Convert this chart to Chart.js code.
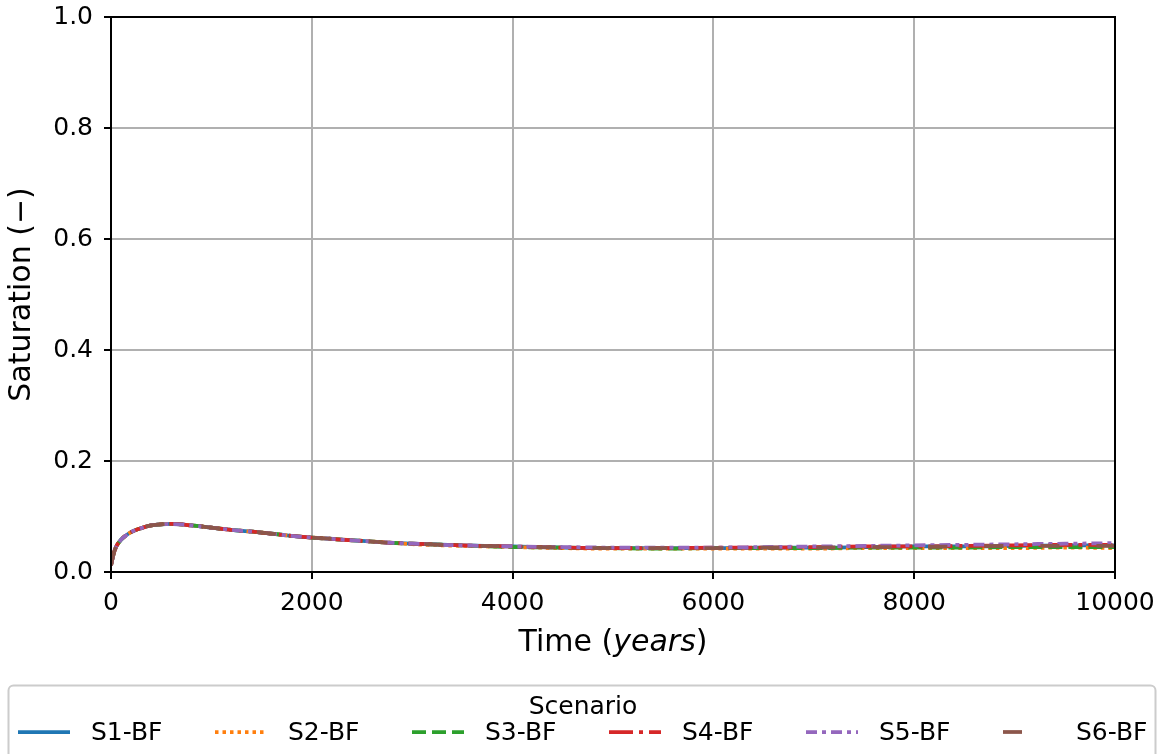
<!DOCTYPE html>
<html>
<head>
<meta charset="utf-8">
<title>Saturation</title>
<script src="https://cdn.jsdelivr.net/npm/chart.js@4/dist/chart.umd.min.js"></script>
<style>
    html, body { margin: 0; padding: 0; background: #fff; }
    #wrap { width: 1160px; height: 754px; }
</style>
</head>
<body>
<div id="wrap"><canvas id="satChart" width="1160" height="754"></canvas></div>
<script>

// time axis (years)
const years = [0, 25, 50, 100, 150, 200, 300, 400, 500, 600, 800, 1000, 1250, 1500, 1750, 2000, 2250, 2500, 2750, 3000,
    3500, 4000, 4500, 5000, 5500, 6000, 6500, 7000, 7500, 8000, 8500, 9000, 9500, 10000];

const scenarios = ["S1-BF", "S2-BF", "S3-BF", "S4-BF", "S5-BF", "S6-BF"];

// saturation per scenario
const s1 = [0.012, 0.032, 0.045, 0.058, 0.066, 0.072, 0.079, 0.084, 0.086, 0.0865, 0.084, 0.080, 0.075, 0.071, 0.066, 0.062, 0.059, 0.056, 0.053, 0.051,
    0.048, 0.046, 0.044, 0.043, 0.043, 0.043, 0.044, 0.044, 0.045, 0.046, 0.046, 0.047, 0.048, 0.048];
const s2 = [0.012, 0.032, 0.045, 0.058, 0.066, 0.072, 0.079, 0.084, 0.086, 0.0865, 0.084, 0.080, 0.075, 0.071, 0.066, 0.062, 0.059, 0.056, 0.053, 0.050,
    0.047, 0.045, 0.043, 0.042, 0.042, 0.042, 0.042, 0.042, 0.043, 0.043, 0.043, 0.043, 0.044, 0.043];
const s3 = [0.012, 0.032, 0.045, 0.058, 0.066, 0.072, 0.079, 0.084, 0.086, 0.0865, 0.084, 0.080, 0.075, 0.071, 0.066, 0.062, 0.059, 0.056, 0.053, 0.051,
    0.048, 0.045, 0.044, 0.043, 0.042, 0.043, 0.043, 0.043, 0.044, 0.044, 0.044, 0.045, 0.045, 0.045];
const s4 = [0.012, 0.032, 0.045, 0.058, 0.066, 0.072, 0.079, 0.084, 0.086, 0.0865, 0.084, 0.080, 0.075, 0.071, 0.066, 0.062, 0.059, 0.056, 0.053, 0.051,
    0.048, 0.046, 0.044, 0.043, 0.043, 0.044, 0.044, 0.045, 0.046, 0.046, 0.047, 0.048, 0.049, 0.049];
const s5 = [0.012, 0.032, 0.045, 0.058, 0.066, 0.072, 0.079, 0.084, 0.086, 0.0865, 0.084, 0.080, 0.075, 0.071, 0.066, 0.062, 0.059, 0.056, 0.053, 0.051,
    0.048, 0.046, 0.045, 0.044, 0.044, 0.044, 0.045, 0.046, 0.047, 0.048, 0.049, 0.050, 0.051, 0.052];
const s6 = [0.012, 0.032, 0.045, 0.058, 0.066, 0.072, 0.079, 0.084, 0.086, 0.0865, 0.084, 0.080, 0.075, 0.071, 0.066, 0.062, 0.059, 0.056, 0.053, 0.051,
    0.048, 0.046, 0.044, 0.043, 0.043, 0.043, 0.044, 0.044, 0.045, 0.045, 0.046, 0.047, 0.047, 0.047];

const xTicks = [0, 2000, 4000, 6000, 8000, 10000];
const yTicks = [0.0, 0.2, 0.4, 0.6, 0.8, 1.0];

const series = [s1, s2, s3, s4, s5, s6];
const colors = ['#1f77b4', '#ff7f0e', '#2ca02c', '#d62728', '#9467bd', '#8c564b'];
const dashes = [
    [],                                   // solid
    [3.5, 4],                             // dotted
    [14, 6],                              // dashed
    [24, 6, 4, 6],                        // dash-dot
    [11, 5, 4, 5, 11, 5, 4, 5, 4, 5],     // dash-dot-dot
    [19, 37]                              // loose dashes
];

const FONT = "'DejaVu Sans', sans-serif";

const datasets = scenarios.map(function(name, i) {
    return {
        label: name,
        data: years.map(function(t, k) { return { x: t, y: series[i][k] }; }),
        borderColor: colors[i],
        backgroundColor: colors[i],
        borderWidth: 3.75,
        borderDash: dashes[i],
        pointRadius: 0,
        fill: false,
        cubicInterpolationMode: 'monotone',
        order: scenarios.length - i // later scenarios on top
    };
});

// frame, x title with italic unit, and the boxed legend below the axes
const decorations = {
    id: 'decorations',
    afterDraw: function(chart) {
        const ctx = chart.ctx;
        const a = chart.chartArea;
        ctx.save();

        // spines
        ctx.strokeStyle = '#000';
        ctx.lineWidth = 2;
        ctx.setLineDash([]);
        ctx.strokeRect(a.left, a.top, a.right - a.left, a.bottom - a.top);

        // x axis title: "Time (" + italic "years" + ")"
        const parts = [
            { t: 'Time (', f: '30px ' + FONT },
            { t: 'years', f: 'italic 30px ' + FONT },
            { t: ')', f: '30px ' + FONT }
        ];
        let total = 0;
        parts.forEach(function(p) { ctx.font = p.f; p.w = ctx.measureText(p.t).width; total += p.w; });
        let x = (a.left + a.right) / 2 - total / 2;
        ctx.fillStyle = '#000';
        ctx.textBaseline = 'middle';
        ctx.textAlign = 'left';
        parts.forEach(function(p) { ctx.font = p.f; ctx.fillText(p.t, x, 643); x += p.w; });

        // legend frame
        ctx.strokeStyle = '#cccccc';
        ctx.lineWidth = 2;
        ctx.beginPath();
        ctx.roundRect(8.5, 685.5, 1147, 90, 5);
        ctx.fillStyle = 'rgba(255,255,255,0.8)';
        ctx.fill();
        ctx.stroke();

        ctx.fillStyle = '#000';
        ctx.font = '25px ' + FONT;
        ctx.textAlign = 'center';
        ctx.fillText('Scenario', 583, 707);

        // legend entries
        chart.data.datasets.forEach(function(ds, i) {
            const hx = 18 + i * 197;
            const hy = 732;
            ctx.strokeStyle = ds.borderColor;
            ctx.lineWidth = ds.borderWidth;
            ctx.setLineDash(ds.borderDash);
            ctx.beginPath();
            ctx.moveTo(hx, hy);
            ctx.lineTo(hx + 52, hy);
            ctx.stroke();
            ctx.setLineDash([]);
            ctx.fillStyle = '#000';
            ctx.textAlign = 'left';
            ctx.font = '25px ' + FONT;
            ctx.fillText(ds.label, hx + 73, hy + 1);
        });

        ctx.restore();
    }
};

const ctx = document.getElementById('satChart').getContext('2d');
const satChart = new Chart(ctx, {
    type: 'line',
    data: { datasets: datasets },
    options: {
        responsive: false,
        maintainAspectRatio: false,
        animation: false,
        devicePixelRatio: 1,
        layout: { padding: { top: 17, right: 45, left: 0, bottom: 0 } },
        plugins: {
            legend: { display: false },
            tooltip: { enabled: false }
        },
        scales: {
            x: {
                type: 'linear',
                min: 0,
                max: 10000,
                afterBuildTicks: function(scale) { scale.ticks = xTicks.map(function(v) { return { value: v }; }); },
                afterFit: function(scale) {
                    scale.height = 182;
                    scale.paddingLeft = 0;
                    scale.paddingRight = 0;
                },
                ticks: {
                    color: '#000',
                    font: { family: FONT, size: 25 },
                    padding: 9,
                    maxRotation: 0,
                    callback: function(v) { return String(v); }
                },
                grid: {
                    color: '#b0b0b0',
                    lineWidth: 2,
                    tickColor: '#000',
                    tickLength: 7,
                    tickWidth: 2
                },
                border: { color: '#000', width: 2 }
            },
            y: {
                type: 'linear',
                min: 0,
                max: 1,
                afterBuildTicks: function(scale) { scale.ticks = yTicks.map(function(v) { return { value: v }; }); },
                afterFit: function(scale) {
                    scale.width = 111;
                    scale.paddingTop = 0;
                    scale.paddingBottom = 0;
                },
                ticks: {
                    color: '#000',
                    font: { family: FONT, size: 25 },
                    padding: 11,
                    callback: function(v) { return v.toFixed(1); }
                },
                grid: {
                    color: '#b0b0b0',
                    lineWidth: 2,
                    tickColor: '#000',
                    tickLength: 7,
                    tickWidth: 2
                },
                border: { color: '#000', width: 2 },
                title: {
                    display: true,
                    text: 'Saturation (\u2212)',
                    color: '#000',
                    font: { family: FONT, size: 30 },
                    padding: { top: 4, bottom: 0 }
                }
            }
        }
    },
    plugins: [decorations]
});
</script>
</body>
</html>
